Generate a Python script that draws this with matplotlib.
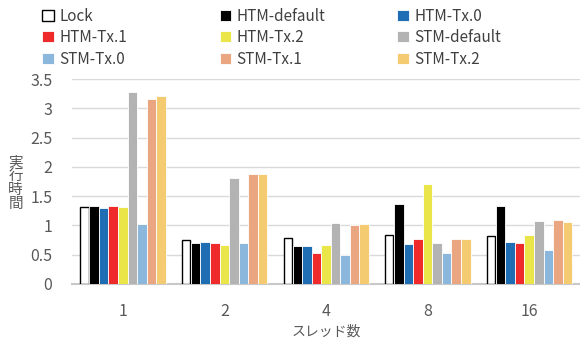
import matplotlib
matplotlib.use('Agg')
import matplotlib.pyplot as plt
import numpy as np

plt.rcParams['font.family'] = ['Noto Sans CJK JP', 'DejaVu Sans']

# スレッド数ごとの実行時間
threads = ['1', '2', '4', '8', '16']
series = ['Lock', 'HTM-default', 'HTM-Tx.0', 'HTM-Tx.1', 'HTM-Tx.2',
          'STM-default', 'STM-Tx.0', 'STM-Tx.1', 'STM-Tx.2']
lock = [1.31, 0.75, 0.78, 0.84, 0.82]
htm_default = [1.33, 0.70, 0.64, 1.36, 1.33]
htm_tx0 = [1.29, 0.71, 0.64, 0.69, 0.72]
htm_tx1 = [1.33, 0.70, 0.52, 0.77, 0.70]
htm_tx2 = [1.31, 0.66, 0.67, 1.70, 0.83]
stm_default = [3.28, 1.81, 1.04, 0.70, 1.08]
stm_tx0 = [1.03, 0.70, 0.49, 0.53, 0.58]
stm_tx1 = [3.16, 1.87, 1.00, 0.77, 1.09]
stm_tx2 = [3.21, 1.87, 1.03, 0.76, 1.06]
values = [lock, htm_default, htm_tx0, htm_tx1, htm_tx2,
          stm_default, stm_tx0, stm_tx1, stm_tx2]

colors = ['white', 'black', '#1F6EB4', '#EE2A2B', '#EAE64A',
          '#B3B3B3', '#8CB7DC', '#EAA681', '#F4CB70']

gray = '#595959'
fig = plt.figure(figsize=(5.8, 3.45), dpi=100)
ax = fig.add_axes([0.124, 0.177, 0.876, 0.594])

x = np.arange(len(threads))
w = 0.094
handles = []
for i, (name, vals, c) in enumerate(zip(series, values, colors)):
    pos = x + (i - 4) * w
    if name == 'Lock':
        b = ax.bar(pos, vals, w * 0.86, color=c, edgecolor='black', linewidth=1.0, label=name, zorder=3)
    else:
        b = ax.bar(pos, vals, w, color=c, edgecolor='white', linewidth=0.6, label=name, zorder=3)
    handles.append(b)

ax.set_xlim(-0.5, len(threads) - 0.5)
ax.set_ylim(0, 3.5)
ax.set_yticks(np.arange(0, 3.51, 0.5))
ax.set_yticklabels(['0', '0.5', '1', '1.5', '2', '2.5', '3', '3.5'])
ax.set_xticks(x)
ax.set_xticklabels(threads)
ax.tick_params(length=0, labelsize=11.5, colors=gray)
ax.tick_params(axis='x', pad=14)
ax.tick_params(axis='y', pad=14)
ax.yaxis.grid(True, color='#D9D9D9', linewidth=1.0, zorder=0)
ax.set_axisbelow(True)
for s in ['top', 'right', 'left']:
    ax.spines[s].set_visible(False)
ax.spines['bottom'].set_color('#C8C8C8')
ax.spines['bottom'].set_linewidth(1.5)

ax.set_xlabel('スレッド数', fontsize=10, color=gray, labelpad=3)
fig.text(0.027, 0.47, '実\n行\n時\n間', fontsize=10.5, color=gray,
         ha='center', va='center', linespacing=1.0)

# 凡例は3列、行方向に並べる
col_x = [0.060, 0.366, 0.672]
for col in range(3):
    idx = [col, col + 3, col + 6]
    fig.legend([handles[i] for i in idx], [series[i] for i in idx],
               loc='upper left', bbox_to_anchor=(col_x[col], 1.0),
               borderaxespad=0.3, borderpad=0.2,
               frameon=False, fontsize=11, handlelength=0.75, handleheight=0.75,
               handletextpad=0.35, labelspacing=0.3, labelcolor='#404040')

plt.savefig('out.png', dpi=100)
plt.close()
